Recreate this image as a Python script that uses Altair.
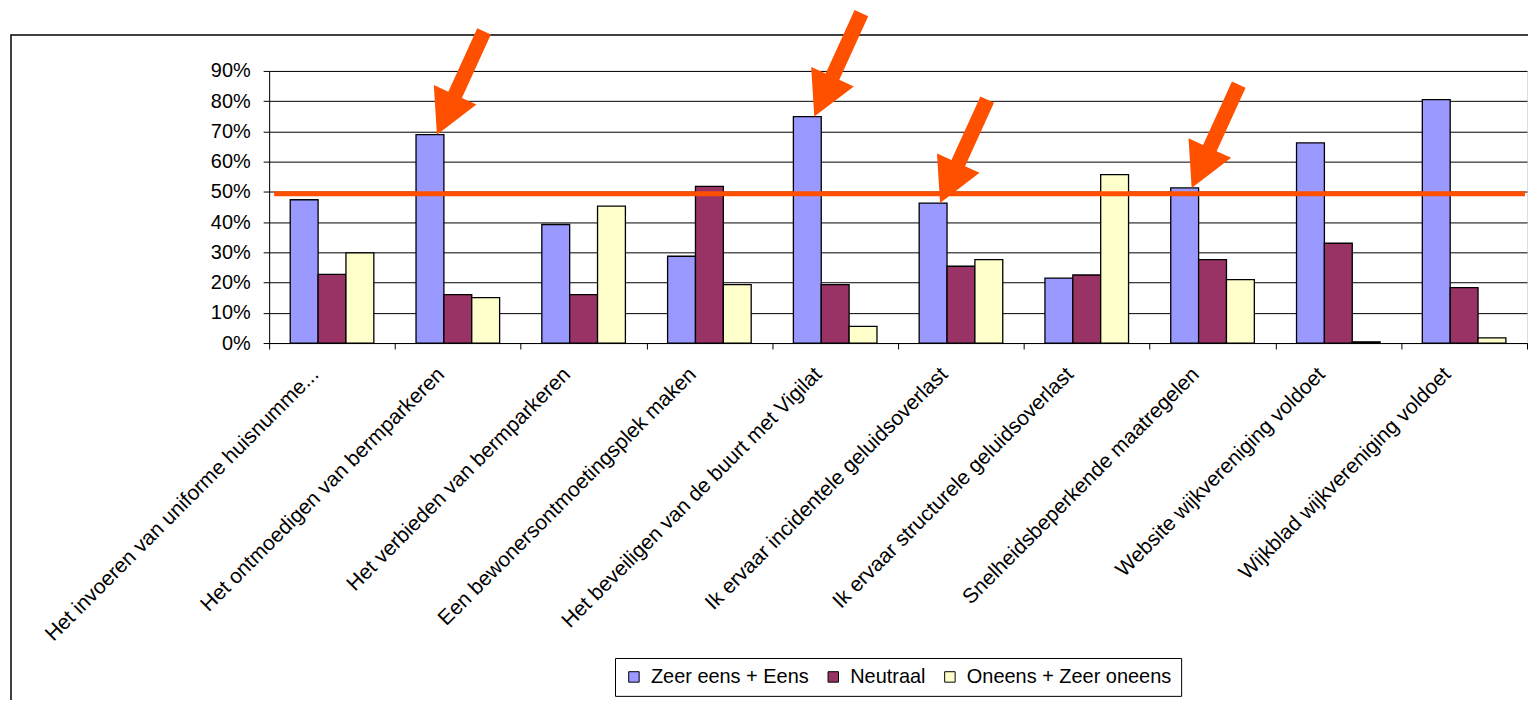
import math
import altair as alt
import pandas as pd

# ---------------- data ----------------
categories = [
    "Het invoeren van uniforme huisnumme...",
    "Het ontmoedigen van bermparkeren",
    "Het verbieden van bermparkeren",
    "Een bewonersontmoetingsplek maken",
    "Het beveiligen van de buurt met Vigilat",
    "Ik ervaar incidentele geluidsoverlast",
    "Ik ervaar structurele geluidsoverlast",
    "Snelheidsbeperkende maatregelen",
    "Website wijkvereniging voldoet",
    "Wijkblad wijkvereniging voldoet",
]
series_names = ["Zeer eens + Eens", "Neutraal", "Oneens + Zeer oneens"]
agree = [47.4, 68.9, 39.2, 28.7, 74.9, 46.3, 21.5, 51.3, 66.2, 80.5]
neutral = [22.7, 16.0, 16.0, 51.8, 19.3, 25.4, 22.5, 27.6, 33.0, 18.3]
disagree = [29.8, 15.0, 45.3, 19.3, 5.5, 27.6, 55.7, 21.0, 0.4, 1.7]
series_colors = ["#9999FF", "#993366", "#FFFFCC"]
y_ticks = [0, 10, 20, 30, 40, 50, 60, 70, 80, 90]
threshold = [49.4]
arrow_categories = [categories[1], categories[4], categories[5], categories[7]]

rows = []
for i, c in enumerate(categories):
    for s, vals in zip(series_names, [agree, neutral, disagree]):
        rows.append({"category": c, "series": s, "value": vals[i]})
df = pd.DataFrame(rows)
arrow_df = df[(df["series"] == series_names[0]) & (df["category"].isin(arrow_categories))]
line_df = pd.DataFrame({"value": threshold})
frame_df = pd.DataFrame({"k": [0]})

# ---------------- style ----------------
PLOT_W = 1262
PLOT_H = 273
FONT = "Liberation Sans"
ORANGE = "#FF5000"

# arrow glyph (tip at origin, pointing down-left)
theta = math.radians(24.5)
ux, uy = math.sin(theta), -math.cos(theta)
nx, ny = math.cos(theta), math.sin(theta)
L_, H_, W_, w_ = 114, 44, 23.5, 7.5
ox = 7
pts = [
    (0, 0),
    (H_ * ux - W_ * nx, H_ * uy - W_ * ny),
    (H_ * ux - w_ * nx, H_ * uy - w_ * ny),
    (L_ * ux - w_ * nx, L_ * uy - w_ * ny),
    (L_ * ux + w_ * nx, L_ * uy + w_ * ny),
    (H_ * ux + w_ * nx, H_ * uy + w_ * ny),
    (H_ * ux + W_ * nx, H_ * uy + W_ * ny),
]
R = 120.0
arrow_path = "M" + " L".join(f"{(x + ox) / R:.4f},{y / R:.4f}" for x, y in pts) + " Z"
arrow_size = (2 * R) ** 2

x_axis = alt.Axis(
    title=None,
    labelAngle=-45,
    labelAlign="right",
    labelBaseline="middle",
    labelFontSize=21,
    labelFont=FONT,
    labelColor="black",
    labelLimit=1000,
    labelOverlap=False,
    labelPadding=22,
    labelOffset=-17,
    tickBand="extent",
    tickSize=6,
    tickColor="black",
    domainColor="black",
    grid=False,
)
y_axis = alt.Axis(
    title=None,
    values=y_ticks,
    labelExpr="datum.value + '%'",
    labelFontSize=20,
    labelFont=FONT,
    labelColor="black",
    labelPadding=13,
    labelOverlap=False,
    tickSize=6,
    tickColor="black",
    domainColor="black",
    grid=True,
    gridColor="black",
    gridWidth=1,
)


def x_enc():
    return alt.X(
        "category:N",
        sort=categories,
        scale=alt.Scale(domain=categories, paddingInner=0, paddingOuter=0),
        axis=x_axis,
    )


def xoff_enc():
    return alt.XOffset(
        "series:N",
        sort=series_names,
        scale=alt.Scale(domain=series_names, paddingInner=0, paddingOuter=0.757),
    )


def y_enc():
    return alt.Y("value:Q", scale=alt.Scale(domain=[0, 90], nice=False), axis=y_axis)


frame = alt.Chart(frame_df).mark_rect(
    fillOpacity=0, stroke="black", strokeWidth=1.5
).encode(
    x=alt.value(-259),
    x2=alt.value(PLOT_W + 60),
    y=alt.value(-36),
    y2=alt.value(PLOT_H + 600),
)

bars = alt.Chart(df).mark_bar(stroke="black", strokeWidth=1.3).encode(
    x=x_enc(),
    xOffset=xoff_enc(),
    y=y_enc(),
    color=alt.Color(
        "series:N",
        sort=series_names,
        scale=alt.Scale(domain=series_names, range=series_colors),
        legend=alt.Legend(
            title=None,
            orient="none",
            legendX=347,
            legendY=589,
            direction="horizontal",
            columns=3,
            labelFontSize=20,
            labelFont=FONT,
            labelColor="black",
            labelLimit=1000,
            symbolType="square",
            symbolSize=110,
            symbolStrokeColor="black",
            symbolStrokeWidth=1,
            strokeColor="black",
            fillColor="white",
            padding=9,
            columnPadding=14,
            labelOffset=7,
        ),
    ),
)

line = alt.Chart(line_df).mark_rule(color=ORANGE, strokeWidth=5).encode(
    y=y_enc(),
    x=alt.value(5),
    x2=alt.value(PLOT_W - 2),
)

arrows = alt.Chart(arrow_df).mark_point(
    shape=arrow_path,
    size=arrow_size,
    filled=True,
    fill=ORANGE,
    fillOpacity=1,
    opacity=1,
    strokeWidth=0,
).encode(
    x=x_enc(),
    xOffset=xoff_enc(),
    y=y_enc(),
)

chart = (
    alt.layer(frame, bars, line, arrows)
    .properties(
        width=PLOT_W,
        height=PLOT_H,
        autosize=alt.AutoSizeParams(type="none"),
        padding={"left": 262, "top": 62, "right": 1, "bottom": 357},
        background="white",
    )
    .configure_view(fill="#DCDCDC", stroke="#808080", strokeWidth=1)
    .configure(font=FONT)
)

chart.save("out.html", embed_options={"renderer": "svg", "actions": False})
